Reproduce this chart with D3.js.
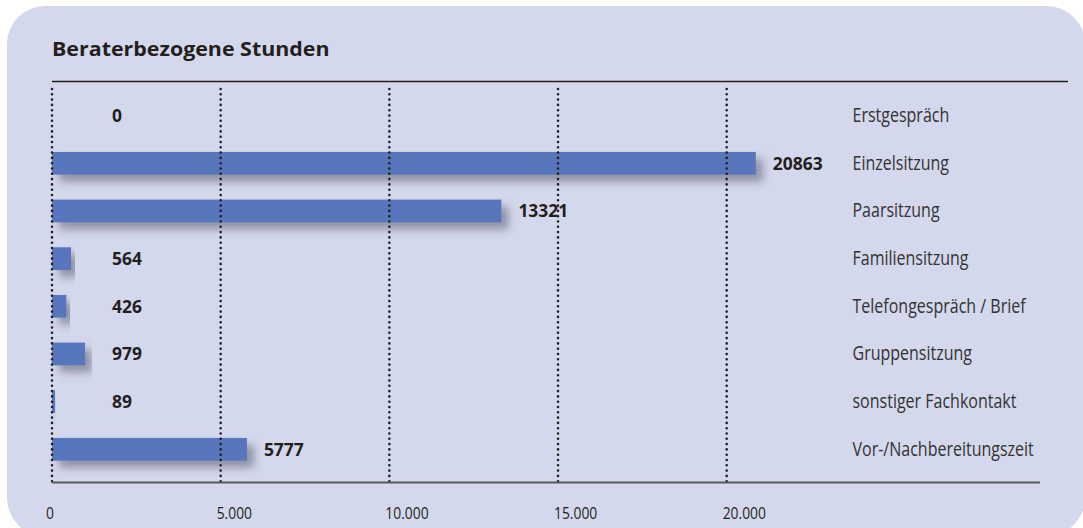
<!DOCTYPE html>
<html><head><meta charset="utf-8">
<script src="https://cdn.jsdelivr.net/npm/d3@7"></script>
<style>body{margin:0;background:#fff;} svg{display:block}</style>
</head><body>
<svg id="c" width="1083" height="528"></svg>
<script>
const title = "Beraterbezogene Stunden";
const categories = ["Erstgespräch","Einzelsitzung","Paarsitzung","Familiensitzung","Telefongespräch / Brief","Gruppensitzung","sonstiger Fachkontakt","Vor-/Nachbereitungszeit"];
const values = [0,20863,13321,564,426,979,89,5777];
const tickValues = [0,5000,10000,15000,20000];
const tickLabels = ["0","5.000","10.000","15.000","20.000"];

const data = categories.map((c,i)=>({c, v: values[i]}));
const svg = d3.select("#c");
const FONT = "'Open Sans', sans-serif";
const INK = "#231f20";

const defs = svg.append("defs");
const f = defs.append("filter").attr("id","sh").attr("x","-10%").attr("y","-50%").attr("width","130%").attr("height","250%");
f.append("feDropShadow").attr("dx",7).attr("dy",7).attr("stdDeviation",4).attr("flood-color","#4a4a60").attr("flood-opacity",0.5);

// panel
svg.append("rect").attr("x",7).attr("y",6).attr("width",1078).attr("height",530).attr("rx",38).attr("fill","#d4d8ec");

const x = d3.scaleLinear().domain([0,20000]).range([52,726.7]);
const y = d3.scaleBand().domain(categories).range([91.8,473.1]).paddingInner(0.524).paddingOuter(0.262);

// title
svg.append("text").attr("transform","translate(52,56) scale(1.07,1)")
  .attr("font-family",FONT).attr("font-weight",700).attr("font-size",20).attr("fill",INK).text(title);

// top rule
svg.append("line").attr("x1",52).attr("x2",1068).attr("y1",81.5).attr("y2",81.5).attr("stroke",INK).attr("stroke-width",1.5);

// bars
svg.append("g").selectAll("rect").data(data.filter(d=>d.v>0)).join("rect")
  .attr("x",x(0)).attr("y",d=>y(d.c)).attr("width",d=>x(d.v)-x(0)).attr("height",y.bandwidth())
  .attr("fill","#5876bb").attr("filter","url(#sh)");

// gridlines
svg.append("g").selectAll("line").data(tickValues).join("line")
  .attr("x1",d=>x(d)).attr("x2",d=>x(d)).attr("y1",89).attr("y2",485)
  .attr("stroke",INK).attr("stroke-width",2.6).attr("stroke-linecap","round").attr("stroke-dasharray","0,5.3");

// bottom axis line
svg.append("line").attr("x1",52).attr("x2",1040).attr("y1",482.5).attr("y2",482.5).attr("stroke","#58585a").attr("stroke-width",2);

// tick labels
svg.append("g").selectAll("text").data(tickValues).join("text")
  .attr("transform",d=>`translate(${x(d)-(d===0?6:4)},519) scale(0.84,1)`)
  .attr("font-family",FONT).attr("font-size",16.5).attr("fill",INK)
  .text((d,i)=>tickLabels[i]);

// value labels
svg.append("g").selectAll("text").data(data).join("text")
  .attr("transform",d=>`translate(${Math.max(x(d.v)+17,112)},${y(d.c)+y.bandwidth()/2+6.5}) scale(0.97,1)`)
  .attr("font-family",FONT).attr("font-weight",700).attr("font-size",18).attr("fill",INK)
  .text(d=>d.v);

// category labels
svg.append("g").selectAll("text").data(data).join("text")
  .attr("transform",d=>`translate(852.5,${y(d.c)+y.bandwidth()/2+6.5}) scale(0.8,1)`)
  .attr("font-family",FONT).attr("font-size",20).attr("fill","#333")
  .text(d=>d.c);
</script>
</body></html>
